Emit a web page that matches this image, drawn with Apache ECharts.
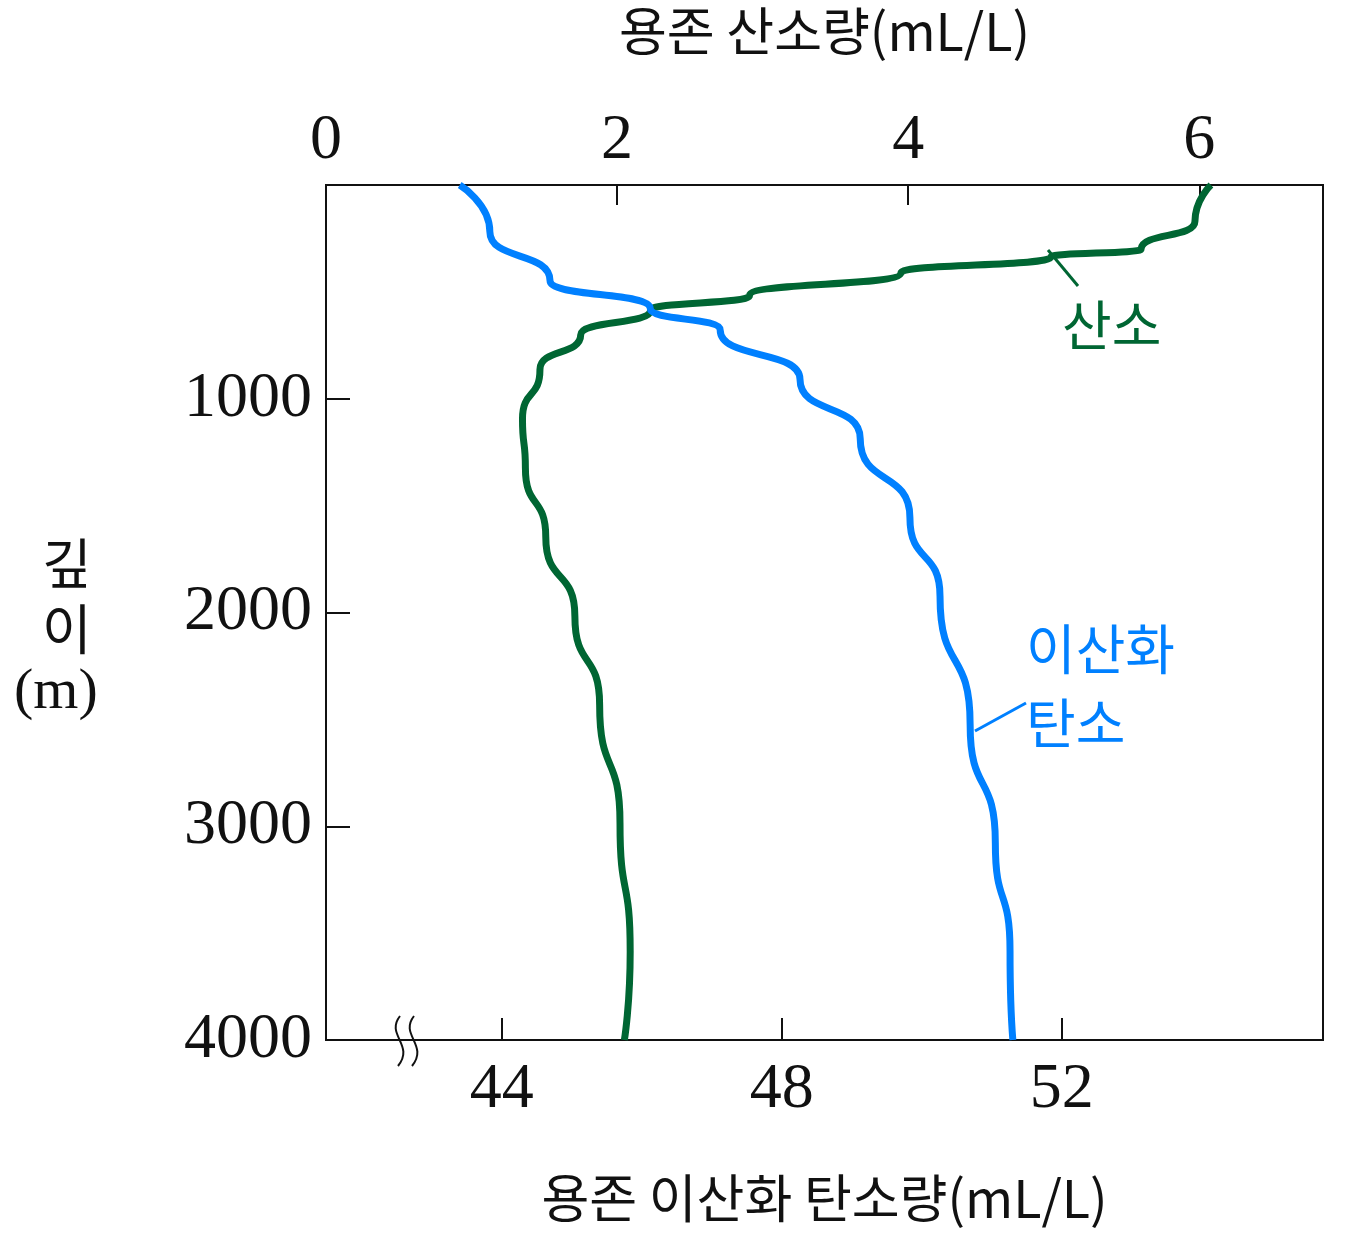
<!DOCTYPE html>
<html><head><meta charset="utf-8">
<script src="https://cdn.jsdelivr.net/npm/echarts@6/dist/echarts.min.js"></script>
<style>html,body{margin:0;background:#fff}#c{width:1350px;height:1237px}</style>
</head><body><div id="c"></div>
<script>
const depthTicks = [0,1000,2000,3000,4000];
const o2Values = [6.08,5.97,5.6,4.98,3.95,2.91,2.23,1.75,1.47,1.35,1.37,1.51,1.71,1.88,2.02,2.09,2.05];
const o2Depths = [0,171,300,337,411,517,586,701,863,1094,1324,1647,2017,2432,2986,3586,4000];
const co2Values = [43.40,43.83,44.69,46.12,47.12,48.26,49.12,49.83,50.26,50.69,51.05,51.26,51.30];
const co2Depths = [0,217,448,577,678,909,1186,1555,1924,2524,3078,3586,4000];
const serif = '"Liberation Serif","DejaVu Serif",serif';
const kr = '"Noto Sans CJK KR",sans-serif';
const chart = echarts.init(document.getElementById('c'));
chart.setOption({
  animation:false,
  grid:{left:326,top:173,width:997,height:867,show:true,borderColor:'#111',borderWidth:2,containLabel:false},
  xAxis:[
    {type:'value',position:'top',min:0,max:6.85,interval:2,
     axisLine:{show:true,lineStyle:{color:'#111',width:2}},
     axisTick:{show:true,inside:true,length:20,lineStyle:{color:'#111',width:2}},
     axisLabel:{fontFamily:serif,fontSize:64,color:'#111',margin:12,
       formatter:v=>v>6?'':String(v)},
     splitLine:{show:false},
     name:'용존 산소량(mL/L)',nameLocation:'middle',nameGap:128,
     nameTextStyle:{fontFamily:kr,fontSize:52,color:'#111'}},
    {type:'value',position:'bottom',min:41.49,max:55.73,interval:4,
     axisLine:{show:true,lineStyle:{color:'#111',width:2}},
     axisTick:{show:true,inside:true,length:22,lineStyle:{color:'#111',width:2},customValues:[44,48,52]},
     axisLabel:{fontFamily:serif,fontSize:64,color:'#111',margin:18,customValues:[44,48,52]},
     splitLine:{show:false},
     name:'용존 이산화 탄소량(mL/L)',nameLocation:'middle',nameGap:132,
     nameTextStyle:{fontFamily:kr,fontSize:52,color:'#111'}}
  ],
  yAxis:{type:'value',inverse:true,min:0,max:4000,interval:1000,
     axisLine:{show:true,lineStyle:{color:'#111',width:2}},
     axisTick:{show:true,inside:true,length:24,lineStyle:{color:'#111',width:2}},
     axisLabel:{fontFamily:serif,fontSize:64,color:'#111',margin:14,formatter:v=>v===0?'':String(v)},
     splitLine:{show:false}},
  series:[
    {type:'line',xAxisIndex:0,smooth:0.6,smoothMonotone:'y',symbol:'none',
     data:o2Values.map((v,i)=>[v,o2Depths[i]]),lineStyle:{color:'#006633',width:7}},
    {type:'line',xAxisIndex:1,smooth:0.6,smoothMonotone:'y',symbol:'none',
     data:co2Values.map((v,i)=>[v,co2Depths[i]]),lineStyle:{color:'#0080ff',width:7}}
  ],
  graphic:[
    {type:'text',left:42,top:530,style:{text:'깊\n이',font:'54px '+kr,fill:'#111',align:'center',lineHeight:66,x:34}},
    {type:'text',left:14,top:664,style:{text:'(m)',font:'58px '+serif,fill:'#111'}},
    {type:'text',left:1062,top:298,style:{text:'산소',font:'54px '+kr,fill:'#006633'}},
    {type:'text',left:1026,top:612,style:{text:'이산화\n탄소',font:'54px '+kr,fill:'#0080ff',align:'center',lineHeight:74,x:90}},
    {type:'line',shape:{x1:1048,y1:250,x2:1078,y2:286},style:{stroke:'#006633',lineWidth:3}},
    {type:'line',shape:{x1:975,y1:731,x2:1026,y2:703},style:{stroke:'#0080ff',lineWidth:3}},
    {type:'rect',shape:{x:390,y:1030,width:30,height:20},style:{fill:'#fff'}},
    {type:'bezierCurve',shape:{x1:400,y1:1016,cpx1:385,cpy1:1035,cpx2:415,cpy2:1045,x2:398,y2:1066},style:{stroke:'#111',lineWidth:2,fill:null}},
    {type:'bezierCurve',shape:{x1:414,y1:1016,cpx1:399,cpy1:1035,cpx2:429,cpy2:1045,x2:412,y2:1066},style:{stroke:'#111',lineWidth:2,fill:null}}
  ]
});
</script></body></html>
